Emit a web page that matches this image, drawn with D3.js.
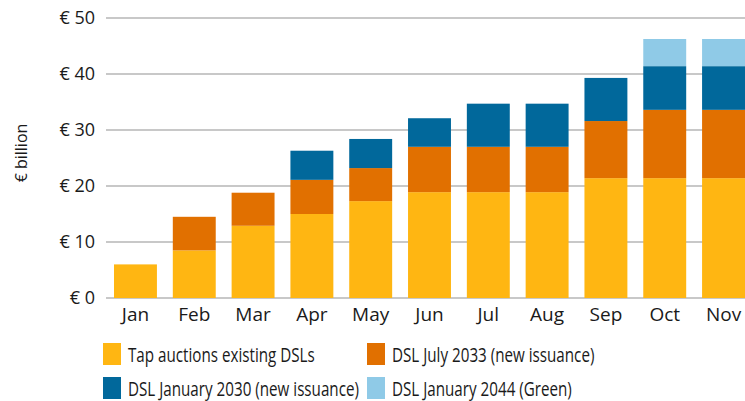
<!DOCTYPE html>
<html>
<head>
<meta charset="utf-8">
<script src="https://cdn.jsdelivr.net/npm/d3@7"></script>
<style>
  body { margin: 0; background: #fff; }
  svg text { font-family: "Open Sans", "Noto Sans", sans-serif; fill: #1a1a1a; }
</style>
</head>
<body>
<div id="chart"></div>
<script>
// months on the x axis
const months = ["Jan", "Feb", "Mar", "Apr", "May", "Jun", "Jul", "Aug", "Sep", "Oct", "Nov"];

// issuance per series, € billion (stacked per month)
const tapAuctions = [6.0, 8.5, 12.9, 15.0, 17.3, 18.9, 18.9, 18.9, 21.4, 21.4, 21.4];
const dslJul2033 = [0, 6.0, 5.9, 6.1, 5.9, 8.1, 8.1, 8.1, 10.2, 12.2, 12.2];
const dslJan2030 = [0, 0, 0, 5.2, 5.2, 5.1, 7.7, 7.7, 7.7, 7.8, 7.8];
const dslJan2044 = [0, 0, 0, 0, 0, 0, 0, 0, 0, 4.85, 4.85];

const seriesNames = [
  "Tap auctions existing DSLs",
  "DSL July 2033 (new issuance)",
  "DSL January 2030 (new issuance)",
  "DSL January 2044 (Green)"
];
const seriesColors = ["#ffb612", "#e17000", "#01689b", "#8fcae7"];
const yTicks = [0, 10, 20, 30, 40, 50];

const width = 745, height = 401;
// the original font is narrow, squeeze Open Sans a bit
const squeeze = 0.76;

const svg = d3.select("#chart")
  .append("svg")
  .attr("width", width)
  .attr("height", height);

// build table for stacking
const keys = ["tap", "jul2033", "jan2030", "jan2044"];
const table = months.map((m, i) => ({
  month: m,
  tap: tapAuctions[i],
  jul2033: dslJul2033[i],
  jan2030: dslJan2030[i],
  jan2044: dslJan2044[i]
}));
const stacked = d3.stack().keys(keys)(table);

const x = d3.scaleBand()
  .domain(months)
  .range([106, 753])
  .paddingInner(0.27)
  .paddingOuter(0.136);

const y = d3.scaleLinear()
  .domain([0, 50])
  .range([298, 18]);

// gridlines
svg.append("g")
  .selectAll("line")
  .data(yTicks)
  .join("line")
  .attr("x1", 106)
  .attr("x2", width)
  .attr("y1", d => y(d))
  .attr("y2", d => y(d))
  .attr("stroke", "#c8c8c8")
  .attr("stroke-width", 2);

// y tick labels
svg.append("g")
  .selectAll("text")
  .data(yTicks)
  .join("text")
  .attr("x", 95)
  .attr("y", d => y(d))
  .attr("dy", "0.36em")
  .attr("text-anchor", "end")
  .style("font-size", "18px")
  .text(d => "€ " + d);

// y axis title
svg.append("text")
  .attr("transform", "translate(27,153) rotate(-90)")
  .attr("text-anchor", "middle")
  .style("font-size", "16px")
  .text("€ billion");

// bars
svg.append("g")
  .selectAll("g")
  .data(stacked)
  .join("g")
  .attr("fill", (d, i) => seriesColors[i])
  .selectAll("rect")
  .data(d => d)
  .join("rect")
  .attr("x", d => x(d.data.month))
  .attr("y", d => y(d[1]))
  .attr("width", x.bandwidth())
  .attr("height", d => y(d[0]) - y(d[1]));

// x labels
svg.append("g")
  .selectAll("text")
  .data(months)
  .join("text")
  .attr("x", d => x(d) + x.bandwidth() / 2)
  .attr("y", 321)
  .attr("text-anchor", "middle")
  .style("font-size", "19px")
  .text(d => d);

// legend (2 columns)
const legend = svg.append("g");
const legendItems = legend.selectAll("g")
  .data(seriesNames)
  .join("g")
  .attr("transform", (d, i) => `translate(${i % 2 === 0 ? 103 : 367},${i < 2 ? 343 : 377})`);

legendItems.append("rect")
  .attr("width", 18)
  .attr("height", 22)
  .attr("fill", (d, i) => seriesColors[i]);

legendItems.append("text")
  .attr("transform", `translate(25,19) scale(${squeeze},1)`)
  .style("font-size", "20px")
  .text(d => d);
</script>
</body>
</html>
